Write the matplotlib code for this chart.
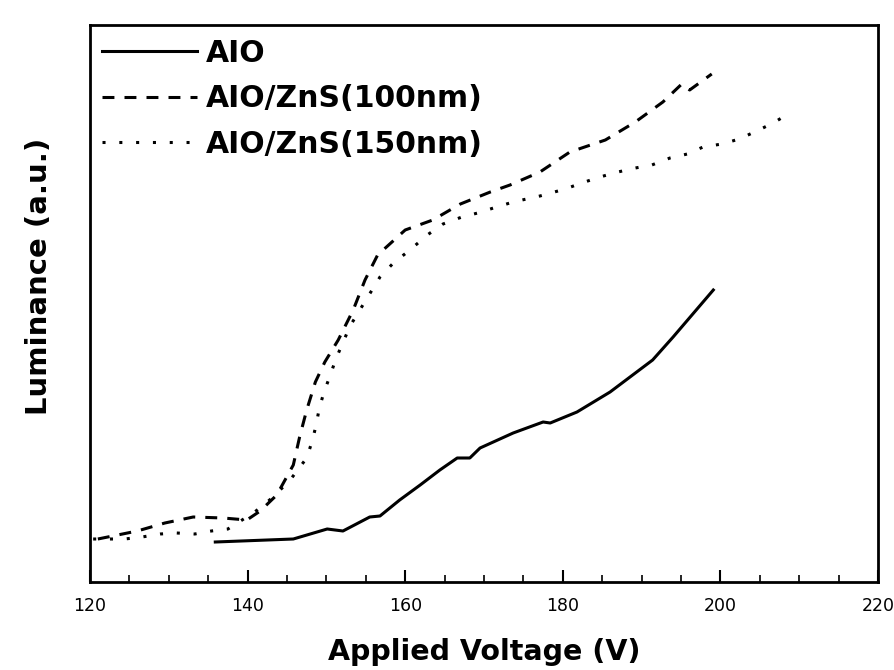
import matplotlib
matplotlib.use("Agg")
import matplotlib.pyplot as plt
from matplotlib.ticker import MultipleLocator

# values (luminance in arbitrary units)
aio_v = [135.9, 145.8, 150.1, 152.1, 155.5, 156.8, 159.3, 161.9, 164.4, 166.6,
         168.2, 169.5, 173.7, 177.5, 178.4, 181.8, 186.0, 191.4, 194.0, 199.1]
aio_l = [40, 43, 53, 51, 65, 66, 82, 97, 112, 124,
         124, 134, 149, 160, 159, 170, 190, 222, 245, 292]

zns100_v = [121.0, 126.0, 129.5, 133.1, 136.9, 139.9, 141.6, 143.7, 145.8, 146.6,
            147.5, 148.6, 149.8, 151.5, 153.4, 154.9, 156.5, 160.0, 163.5, 167.0,
            170.8, 173.3, 177.1, 180.9, 185.4, 189.2, 192.7, 195.1, 196.1, 198.9]
zns100_l = [43, 51, 59, 65, 64, 62, 71, 87, 117, 145,
            172, 200, 220, 242, 272, 302, 327, 352, 362, 378,
            390, 397, 410, 430, 442, 460, 480, 498, 492, 508]

zns150_v = [120.4, 124.4, 126.6, 128.9, 131.0, 133.3, 135.4, 137.5, 140.9, 143.1,
            145.4, 147.5, 148.2, 148.7, 149.1, 149.7, 150.5, 151.2, 153.0, 156.8,
            158.5, 160.6, 162.8, 164.8, 167.2, 169.2, 171.6, 173.7, 177.1, 180.3,
            182.4, 184.7, 187.0, 189.2, 191.3, 193.6, 195.8, 197.8, 200.2, 202.4,
            204.6, 206.7, 208.8]
zns150_l = [43, 43, 45, 48, 49, 48, 51, 53, 70, 84,
            102, 124, 141, 157, 174, 190, 207, 223, 256, 305,
            319, 332, 347, 358, 365, 369, 375, 380, 386, 393,
            399, 405, 410, 414, 417, 424, 428, 435, 438, 443,
            451, 459, 469]

labels = ["AIO", "AIO/ZnS(100nm)", "AIO/ZnS(150nm)"]

plt.rcParams["font.family"] = "DejaVu Sans"

fig = plt.figure(figsize=(8.94, 6.70), dpi=100)
ax = fig.add_axes([90 / 894, 1 - 582 / 670, 788 / 894, 557 / 670])

lw = 2.2
ax.plot(aio_v, aio_l, color="black", lw=lw, ls="-", label=labels[0])
ax.plot(zns100_v, zns100_l, color="black", lw=lw, ls=(0, (3.9, 3.3)), label=labels[1])
ax.plot(zns150_v, zns150_l, color="black", lw=lw, ls=(0, (1, 4.5)), label=labels[2])

ax.set_xlim(120, 220)
ax.set_ylim(0, 557)
ax.xaxis.set_major_locator(MultipleLocator(20))
ax.xaxis.set_minor_locator(MultipleLocator(5))
ax.tick_params(axis="x", which="major", direction="in", length=9, width=1.5,
               labelsize=12.5, pad=11)
ax.tick_params(axis="x", which="minor", direction="in", length=5, width=1.2)
ax.set_yticks([])
for s in ax.spines.values():
    s.set_linewidth(2)

ax.set_xlabel("Applied Voltage (V)", fontsize=20.5, fontweight="bold", labelpad=16)
ax.set_ylabel("Luminance (a.u.)", fontsize=21, fontweight="bold")
ax.yaxis.set_label_coords(-0.047, 1 - (276 - 25) / 557)

ax.legend(loc="upper left", bbox_to_anchor=(0.015, 0.975), frameon=False,
          prop={"weight": "bold", "size": 21.5},
          handlelength=3.2, handletextpad=0.3, labelspacing=0.55,
          borderpad=0, borderaxespad=0)

fig.savefig("out.png", dpi=100)
